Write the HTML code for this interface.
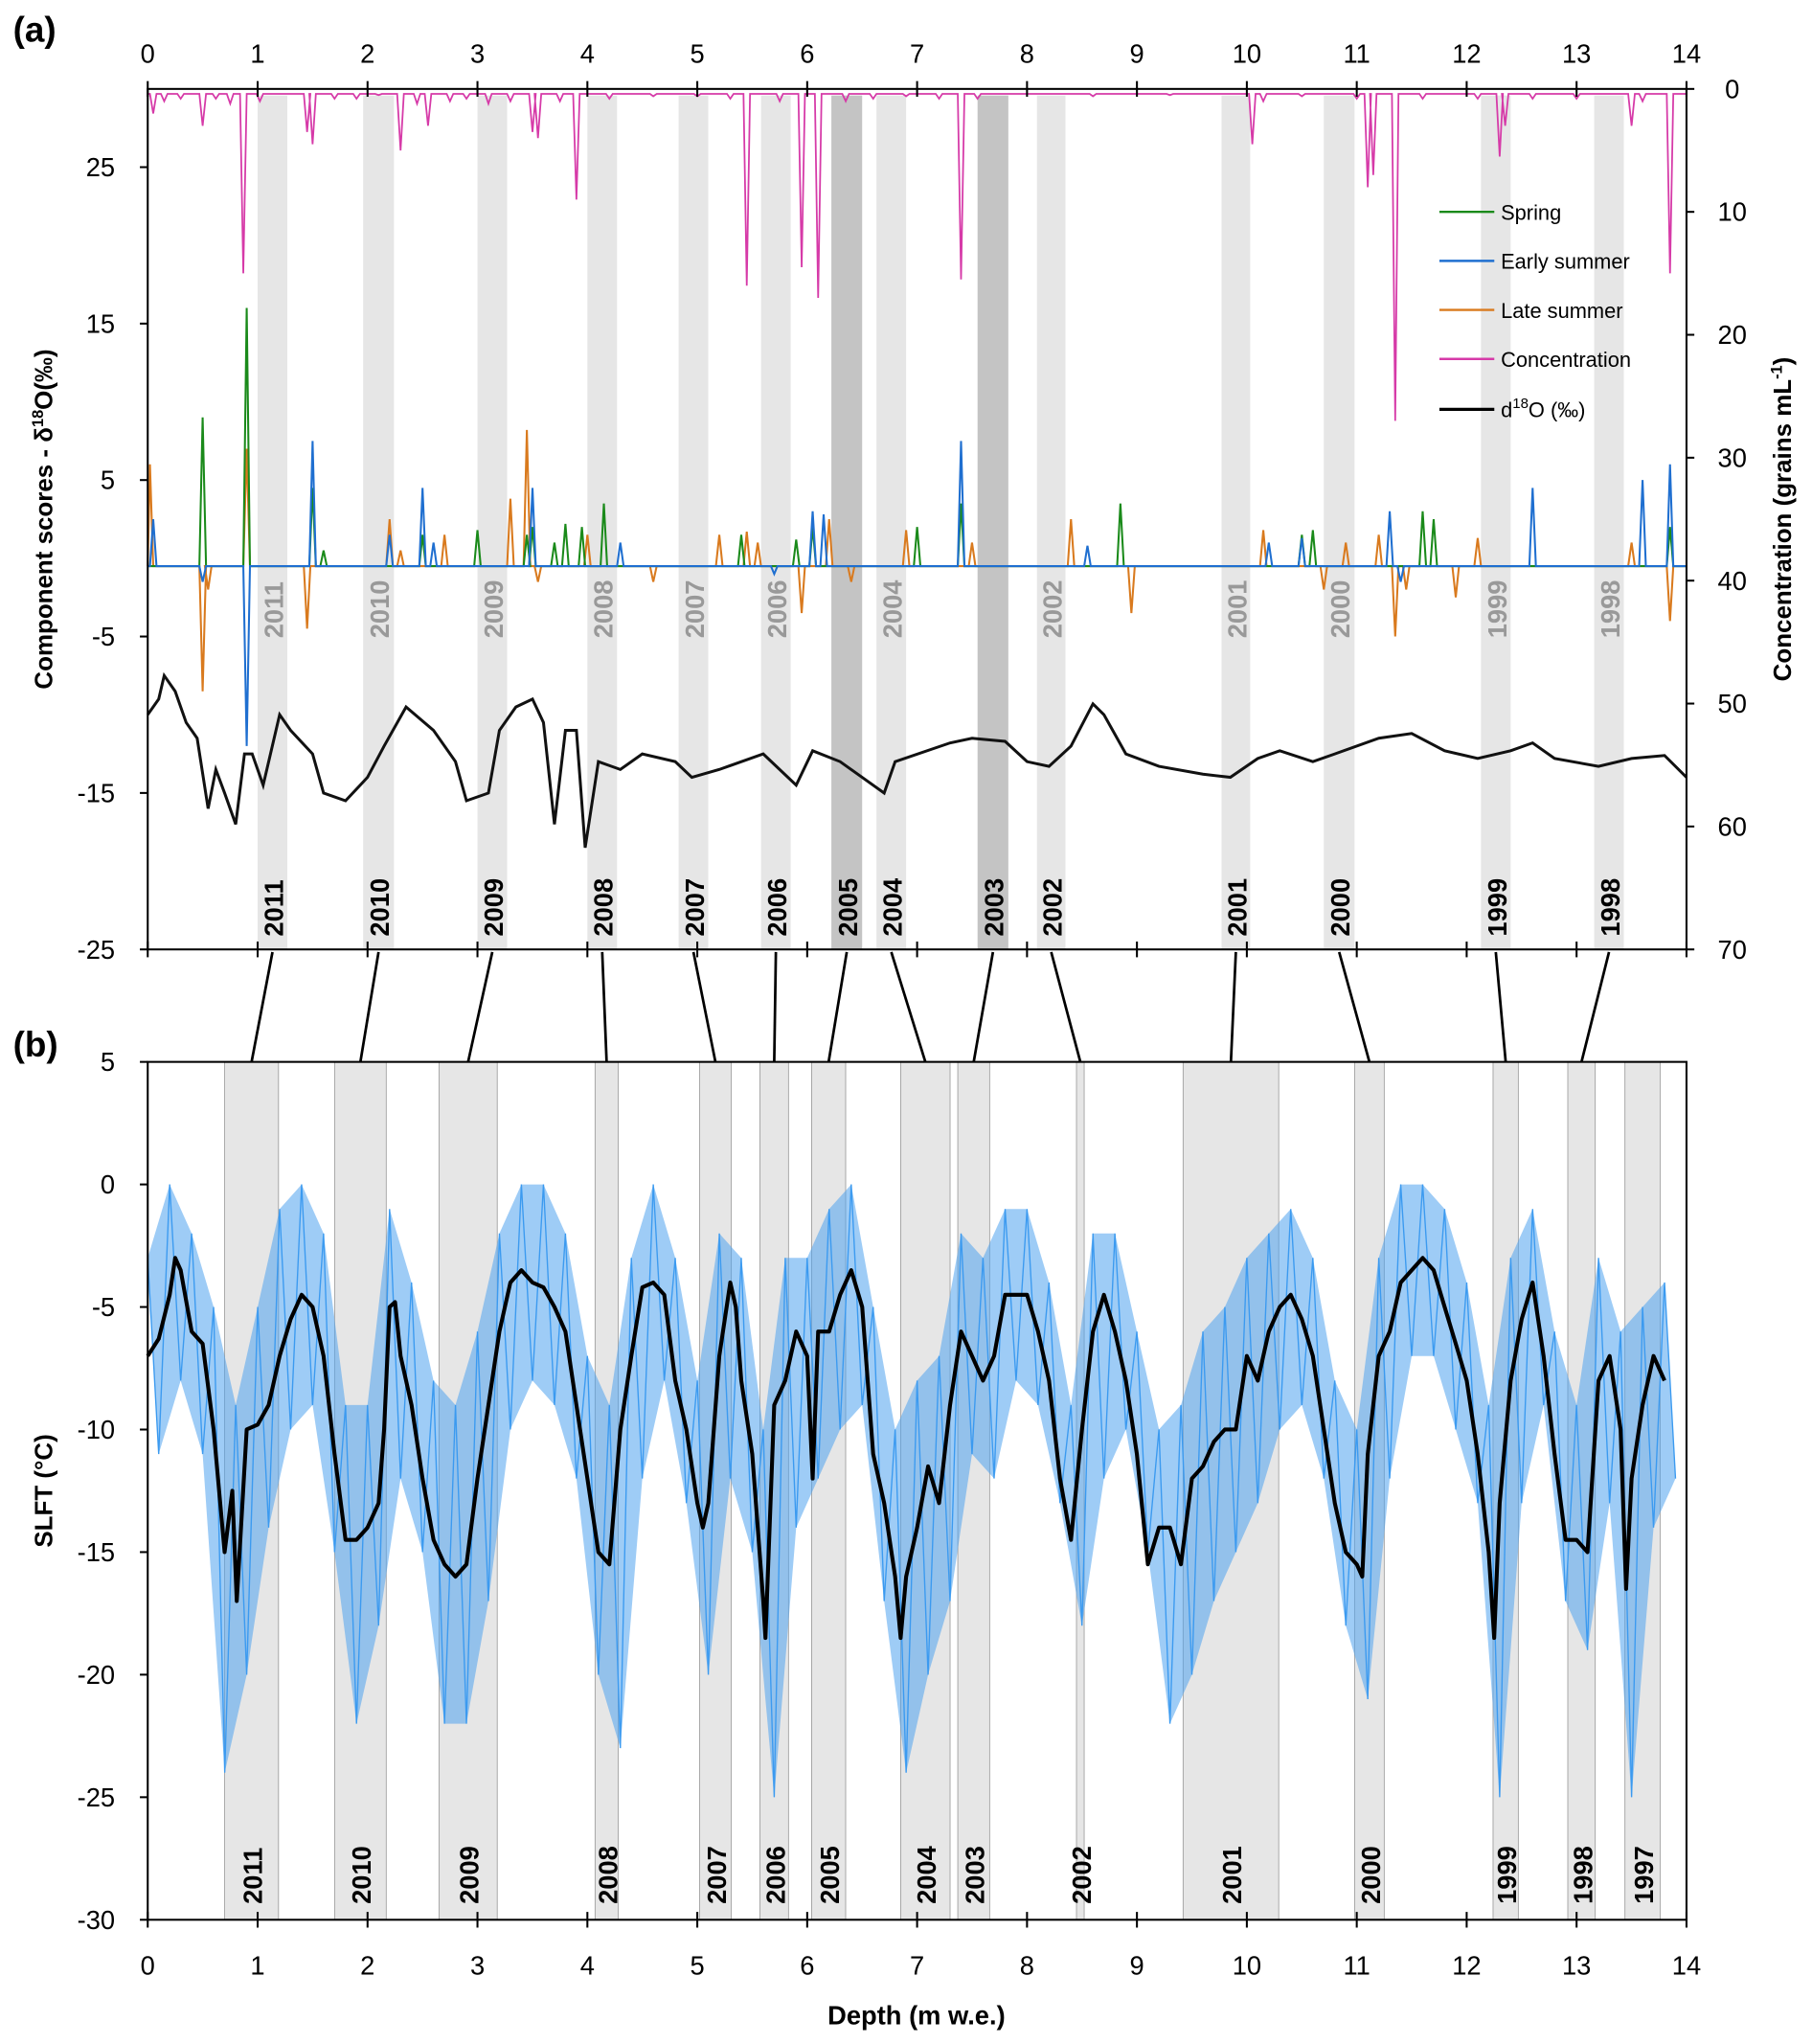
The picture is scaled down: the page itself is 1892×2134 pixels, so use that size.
<!DOCTYPE html>
<html><head><meta charset="utf-8">
<style>
html,body{margin:0;padding:0;background:#fff;}
svg{display:block;font-family:"Liberation Sans",sans-serif;}
</style></head>
<body>
<svg id="chart" width="1892" height="2134" viewBox="0 0 1386 1563" preserveAspectRatio="none" xmlns="http://www.w3.org/2000/svg">
<g id="bandsA"></g>
<g id="bandsB"></g>
<g id="marksA"></g>
<g id="marksB"></g>
<g id="axes"></g>
<g id="labels"></g>
<text x="10" y="32" font-size="27" font-weight="bold">(a)</text>
<text x="10" y="808" font-size="27" font-weight="bold">(b)</text>
<text transform="translate(40,397) rotate(-90)" text-anchor="middle" font-size="19" font-weight="bold">Component scores - δ<tspan font-size="12" dy="-7">18</tspan><tspan dy="7">O(‰)</tspan></text>
<text transform="translate(1370,397) rotate(-90)" text-anchor="middle" font-size="19" font-weight="bold">Concentration (grains mL<tspan font-size="12" dy="-7">-1</tspan><tspan dy="7">)</tspan></text>
<text transform="translate(40,1140) rotate(-90)" text-anchor="middle" font-size="19" font-weight="bold">SLFT (°C)</text>
<text x="701" y="1548" text-anchor="middle" font-size="20" font-weight="bold">Depth (m w.e.)</text>
<g id="legend"></g>
</svg>
<script>
// ---------- data ----------
const xTicks=[0,1,2,3,4,5,6,7,8,9,10,11,12,13,14];
const leftTicksA=[25,15,5,-5,-15,-25];
const rightTicksA=[0,10,20,30,40,50,60,70];
const yTicksB=[5,0,-5,-10,-15,-20,-25,-30];
const yearsA=['2011','2010','2009','2008','2007','2006','2005','2004','2003','2002','2001','2000','1999','1998'];
const bandStartA=[1.0,1.96,3.0,4.0,4.83,5.58,6.22,6.63,7.55,8.09,9.77,10.7,12.13,13.16];
const bandEndA=[1.27,2.24,3.27,4.27,5.1,5.85,6.5,6.9,7.83,8.35,10.03,10.98,12.4,13.43];
const bandDarkA=[0,0,0,0,0,0,1,0,1,0,0,0,0,0];
const yearsB=['2011','2010','2009','2008','2007','2006','2005','2004','2003','2002','2001','2000','1999','1998','1997'];
const bandStartB=[0.70,1.70,2.65,4.07,5.02,5.57,6.04,6.85,7.37,8.45,9.42,10.98,12.24,12.92,13.44];
const bandEndB=[1.19,2.17,3.18,4.28,5.31,5.83,6.35,7.30,7.66,8.52,10.29,11.25,12.47,13.17,13.76];
// concentration: baseline plus spikes; gaps where no data
const concBase=0.4;
const concGapStart=[1.1,7.45];
const concGapEnd=[1.38,7.5];
const concSpikeDepth=[0.05,0.15,0.3,0.5,0.62,0.75,0.87,1.02,1.45,1.5,1.7,1.9,2.1,2.3,2.45,2.55,2.75,2.9,3.1,3.3,3.5,3.55,3.75,3.9,4.2,4.6,5.0,5.3,5.45,5.75,5.95,6.1,6.35,6.6,6.9,7.2,7.4,7.55,8.6,9.3,10.05,10.15,10.5,11.0,11.1,11.15,11.35,11.6,12.1,12.3,12.35,12.6,13.0,13.5,13.6,13.85];
const concSpikeVal=[2,1,0.8,3,0.8,1.2,15,1,3.5,4.5,0.8,0.8,0.5,5,1.2,3,1,0.8,1.2,1,3.5,4,1,9,0.8,0.6,0.6,0.8,16,1,14.5,17,1,0.8,0.6,0.8,15.5,0.8,0.6,0.5,4.5,1,0.6,0.8,8,7,27,0.8,0.8,5.5,3,0.8,0.8,3,1,15];
const compBase=-0.5;
const springDepth=[0.5,0.9,1.5,1.6,2.5,3.0,3.45,3.5,3.7,3.8,3.95,4.15,5.4,5.9,6.05,7.0,7.4,8.85,10.5,10.6,11.6,11.7,13.85];
const springVal=[9,16,4.5,0.5,1.5,1.8,1.5,2,1,2.2,2,3.5,1.5,1.2,2,2,3.5,3.5,1.5,1.8,3,2.5,2];
const earlyDepth=[0.05,0.5,0.9,1.5,2.2,2.5,2.6,3.5,4.3,5.7,6.05,6.15,7.4,8.55,10.2,10.5,11.3,11.4,12.6,13.6,13.85];
const earlyVal=[2.5,-1.5,-12,7.5,1.5,4.5,1,4.5,1,-1,3,2.8,7.5,0.8,1,1.3,3,-1.5,4.5,5,6];
const lateDepth=[0.02,0.5,0.55,0.9,1.45,2.2,2.3,2.7,3.3,3.45,3.55,4.0,4.6,5.2,5.45,5.55,5.95,6.2,6.4,6.9,7.5,8.4,8.95,10.15,10.7,10.9,11.2,11.35,11.45,11.9,12.1,13.5,13.85];
const lateVal=[6,-8.5,-2,7,-4.5,2.5,0.5,1.5,3.8,8.2,-1.5,1.5,-1.5,1.5,1.7,1,-3.5,2.5,-1.5,1.8,1,2.5,-3.5,1.8,-2,1,1.5,-5,-2,-2.5,1.3,1,-4];
const d18Depth=[0,0.1,0.15,0.25,0.35,0.45,0.55,0.62,0.7,0.8,0.88,0.95,1.05,1.2,1.3,1.5,1.6,1.8,2.0,2.15,2.35,2.6,2.8,2.9,3.1,3.2,3.35,3.5,3.6,3.7,3.8,3.9,3.98,4.1,4.3,4.5,4.8,4.95,5.2,5.6,5.9,6.05,6.3,6.7,6.8,7.3,7.5,7.8,8.0,8.2,8.4,8.6,8.7,8.9,9.2,9.6,9.85,10.1,10.3,10.6,10.8,11.2,11.5,11.8,12.1,12.4,12.6,12.8,13.2,13.5,13.8,14];
const d18Val=[-10,-9,-7.5,-8.5,-10.5,-11.5,-16,-13.5,-15,-17,-12.5,-12.5,-14.5,-10,-11,-12.5,-15,-15.5,-14,-12,-9.5,-11,-13,-15.5,-15,-11,-9.5,-9,-10.5,-17,-11,-11,-18.5,-13,-13.5,-12.5,-13,-14,-13.5,-12.5,-14.5,-12.3,-13,-15,-13,-11.8,-11.5,-11.7,-13,-13.3,-12,-9.3,-10,-12.5,-13.3,-13.8,-14,-12.8,-12.3,-13,-12.5,-11.5,-11.2,-12.3,-12.8,-12.3,-11.8,-12.8,-13.3,-12.8,-12.6,-14];
const slftDepth=[0,0.1,0.2,0.25,0.3,0.4,0.5,0.6,0.7,0.77,0.81,0.9,1.0,1.1,1.2,1.3,1.4,1.5,1.6,1.7,1.8,1.9,2.0,2.1,2.15,2.2,2.25,2.3,2.4,2.5,2.6,2.7,2.8,2.9,3.0,3.1,3.2,3.3,3.4,3.5,3.6,3.7,3.8,3.9,4.0,4.1,4.2,4.3,4.4,4.5,4.6,4.7,4.8,4.9,5.0,5.05,5.1,5.2,5.3,5.35,5.4,5.5,5.6,5.62,5.7,5.8,5.9,6.0,6.05,6.1,6.2,6.3,6.4,6.5,6.6,6.7,6.8,6.85,6.9,7.0,7.1,7.2,7.3,7.4,7.5,7.6,7.7,7.8,7.9,8.0,8.1,8.2,8.3,8.4,8.5,8.6,8.7,8.8,8.9,9.0,9.1,9.2,9.3,9.4,9.5,9.6,9.7,9.8,9.9,10.0,10.1,10.2,10.3,10.4,10.5,10.6,10.7,10.8,10.9,11.0,11.05,11.1,11.2,11.3,11.4,11.5,11.6,11.7,11.8,11.9,12.0,12.1,12.2,12.25,12.3,12.4,12.5,12.6,12.7,12.8,12.9,13.0,13.1,13.2,13.3,13.4,13.45,13.5,13.6,13.7,13.8];
const slftBlack=[-7,-6.3,-4.5,-3,-3.5,-6,-6.5,-10,-15,-12.5,-17,-10,-9.8,-9,-7,-5.5,-4.5,-5,-7,-11,-14.5,-14.5,-14,-13,-10,-5,-4.8,-7,-9,-12,-14.5,-15.5,-16,-15.5,-12,-9,-6,-4,-3.5,-4,-4.2,-5,-6,-9,-12,-15,-15.5,-10,-7,-4.2,-4,-4.5,-8,-10,-13,-14,-13,-7,-4,-5,-8,-11,-17,-18.5,-9,-8,-6,-7,-12,-6,-6,-4.5,-3.5,-5,-11,-13,-16,-18.5,-16,-14,-11.5,-13,-9,-6,-7,-8,-7,-4.5,-4.5,-4.5,-6,-8,-12,-14.5,-10,-6,-4.5,-6,-8,-11,-15.5,-14,-14,-15.5,-12,-11.5,-10.5,-10,-10,-7,-8,-6,-5,-4.5,-5.5,-7,-10,-13,-15,-15.5,-16,-11,-7,-6,-4,-3.5,-3,-3.5,-5,-6.5,-8,-11,-15,-18.5,-13,-8,-5.5,-4,-7,-11,-14.5,-14.5,-15,-8,-7,-10,-16.5,-12,-9,-7,-8];
const blueHi=[-3,0,-2,-5,-9,-5,-1,0,-2,-9,-9,-1,-4,-8,-9,-6,-2,0,0,-2,-7,-9,-3,0,-3,-8,-2,-3,-10,-3,-3,-1,0,-5,-10,-8,-7,-2,-3,-1,-1,-4,-9,-2,-2,-6,-10,-9,-6,-5,-3,-2,-1,-3,-8,-10,-3,0,0,-1,-4,-9,-3,-1,-6,-9,-3,-6,-5,-4];
const blueLo=[-11,-8,-11,-24,-20,-14,-10,-9,-15,-22,-18,-12,-15,-22,-22,-17,-10,-8,-9,-12,-20,-23,-12,-8,-13,-20,-12,-15,-25,-14,-12,-10,-9,-17,-24,-20,-17,-11,-12,-8,-9,-13,-18,-12,-10,-15,-22,-20,-17,-15,-13,-10,-9,-12,-18,-21,-12,-7,-7,-10,-13,-25,-13,-9,-17,-19,-13,-25,-14,-12];
const legendNames=['Spring','Early summer','Late summer','Concentration'];
const legendColors=['#1a8a1a','#1f6fd0','#d97a1e','#d63aa8'];

// ---------- scales ----------
const X0=113,X1=1290;
const x=d=>X0+(X1-X0)*d/14;
const yA=v=>68+(30-v)*(658/55);
const yR=v=>68+v*(658/70);
const yB=v=>812+(5-v)*(656/35);
const NS='http://www.w3.org/2000/svg';
function mk(tag,parent,attrs){const e=document.createElementNS(NS,tag);for(const k in attrs)e.setAttribute(k,attrs[k]);parent.appendChild(e);return e;}
function pathFrom(ds,vs,fy){let p='',pen=false;for(let i=0;i<ds.length;i++){if(ds[i]===null){pen=false;continue;}p+=(pen?'L':'M')+x(ds[i]).toFixed(1)+','+fy(vs[i]).toFixed(1);pen=true;}return p;}
// baseline + narrow spikes, with optional gaps
function spikePath(ds,vs,base,fy,gs,ge,start,end){
  const hw=0.03;let pts=[[start,base]];
  ds.forEach((d,i)=>{pts.push([d-hw,base],[d,vs[i]],[d+hw,base]);});
  pts.push([end,base]);
  let p='',pen=false;
  for(const [d,v] of pts){
    let inGap=false;for(let k=0;k<gs.length;k++){if(d>gs[k]&&d<ge[k])inGap=true;}
    if(inGap){pen=false;continue;}
    p+=(pen?'L':'M')+x(Math.max(0,d)).toFixed(1)+','+fy(v).toFixed(1);pen=true;
  }
  return p;
}

// ---------- bands ----------
const gA=document.getElementById('bandsA'),gB=document.getElementById('bandsB'),gL=document.getElementById('labels');
yearsA.forEach((yr,i)=>{
  const r=mk('rect',gA,{x:x(bandStartA[i]),y:73,width:x(bandEndA[i])-x(bandStartA[i]),height:726-73,fill:bandDarkA[i]?'#c4c4c4':'#e6e6e6'});
  
  
  const cx=(x(bandStartA[i])+x(bandEndA[i]))/2+8;
  const t=mk('text',gL,{transform:`translate(${cx},716) rotate(-90)`,'font-size':20,'font-weight':'bold'});t.textContent=yr;
  
  
  if(!bandDarkA[i]){
    const g=mk('text',gL,{transform:`translate(${cx},488) rotate(-90)`,'font-size':20,'font-weight':'bold',fill:'#999'});g.textContent=yr;
    
    }
});
yearsB.forEach((yr,i)=>{
  const r=mk('rect',gB,{x:x(bandStartB[i]),y:812,width:x(bandEndB[i])-x(bandStartB[i]),height:656,fill:'#e6e6e6',stroke:'#999','stroke-width':0.6});
  
  
  const cx=(x(bandStartB[i])+x(bandEndB[i]))/2+8;
  const t=mk('text',gL,{transform:`translate(${cx},1456) rotate(-90)`,'font-size':20,'font-weight':'bold'});t.textContent=yr;
  
  
});
yearsA.forEach((yr,i)=>{
  const ax=(x(bandStartA[i])+x(bandEndA[i]))/2;
  const bx=(x(bandStartB[i])+x(bandEndB[i]))/2;
  const l=mk('line',gL,{x1:ax,y1:728,x2:bx,y2:812,stroke:'#000','stroke-width':2});
  
  
});

// ---------- panel a series ----------
const mA=document.getElementById('marksA');
let s;
s=mk('path',mA,{d:spikePath(concSpikeDepth,concSpikeVal,concBase,yR,concGapStart,concGapEnd,0,14),fill:'none',stroke:'#d63aa8','stroke-width':1.3});

s=mk('path',mA,{d:spikePath(lateDepth,lateVal,compBase,yA,[1.08],[1.4],0,14),fill:'none',stroke:'#d97a1e','stroke-width':1.5});

s=mk('path',mA,{d:spikePath(springDepth,springVal,compBase,yA,[1.08],[1.4],0,14),fill:'none',stroke:'#1a8a1a','stroke-width':1.5});

s=mk('path',mA,{d:spikePath(earlyDepth,earlyVal,compBase,yA,[1.08],[1.4],0,14),fill:'none',stroke:'#1f6fd0','stroke-width':1.5});

s=mk('path',mA,{d:pathFrom(d18Depth,d18Val,yA),fill:'none',stroke:'#111','stroke-width':2.2});


// ---------- panel b series ----------
const mB=document.getElementById('marksB');
const n=Math.min(blueHi.length,blueLo.length);
let env='',zz='';
for(let i=0;i<n;i++){env+=(i?'L':'M')+x(i*0.2).toFixed(1)+','+yB(blueHi[i]).toFixed(1);}
for(let i=n-1;i>=0;i--){env+='L'+x(i*0.2+0.1).toFixed(1)+','+yB(blueLo[i]).toFixed(1);}
s=mk('path',mB,{d:env+'Z',fill:'#4fa3ee','fill-opacity':0.55,stroke:'none'});

for(let i=0;i<n;i++){zz+=(i?'L':'M')+x(i*0.2).toFixed(1)+','+yB(blueHi[i]).toFixed(1)+'L'+x(i*0.2+0.1).toFixed(1)+','+yB(blueLo[i]).toFixed(1);}
s=mk('path',mB,{d:zz,fill:'none',stroke:'#3b9af0','stroke-width':1});

s=mk('path',mB,{d:pathFrom(slftDepth,slftBlack,yB),fill:'none',stroke:'#000','stroke-width':3,'stroke-linejoin':'round'});


// ---------- axes ----------
const ax=document.getElementById('axes');
s=mk('rect',ax,{x:X0,y:68,width:X1-X0,height:658,fill:'none',stroke:'#000','stroke-width':1.5});

s=mk('rect',ax,{x:X0,y:812,width:X1-X0,height:656,fill:'none',stroke:'#000','stroke-width':1.5});

xTicks.forEach(d=>{
  mk('line',ax,{x1:x(d),y1:62,x2:x(d),y2:74,stroke:'#000','stroke-width':1.5});
  mk('line',ax,{x1:x(d),y1:720,x2:x(d),y2:732,stroke:'#000','stroke-width':1.5});
  mk('line',ax,{x1:x(d),y1:1462,x2:x(d),y2:1474,stroke:'#000','stroke-width':1.5});
  let t=mk('text',ax,{x:x(d),y:48,'text-anchor':'middle','font-size':20});t.textContent=d;
  
  t=mk('text',ax,{x:x(d),y:1510,'text-anchor':'middle','font-size':20});t.textContent=d;
  
});
leftTicksA.forEach(v=>{
  mk('line',ax,{x1:107,y1:yA(v),x2:113,y2:yA(v),stroke:'#000','stroke-width':1.5});
  const t=mk('text',ax,{x:88,y:yA(v)+7,'text-anchor':'end','font-size':20});t.textContent=v;
  
});
rightTicksA.forEach(v=>{
  mk('line',ax,{x1:1290,y1:yR(v),x2:1296,y2:yR(v),stroke:'#000','stroke-width':1.5});
  const t=mk('text',ax,{x:1325,y:yR(v)+7,'text-anchor':'middle','font-size':20});t.textContent=v;
  
});
yTicksB.forEach(v=>{
  mk('line',ax,{x1:107,y1:yB(v),x2:113,y2:yB(v),stroke:'#000','stroke-width':1.5});
  const t=mk('text',ax,{x:88,y:yB(v)+7,'text-anchor':'end','font-size':20});t.textContent=v;
  
});

// ---------- legend ----------
const lg=document.getElementById('legend');
legendNames.forEach((nm,i)=>{
  const yy=162+i*37.5;
  mk('line',lg,{x1:1101,y1:yy,x2:1143,y2:yy,stroke:legendColors[i],'stroke-width':1.8});
  const t=mk('text',lg,{x:1148,y:yy+6,'font-size':16});t.textContent=nm;
  
});
mk('line',lg,{x1:1101,y1:313,x2:1143,y2:313,stroke:'#000','stroke-width':2.4});
const lt=mk('text',lg,{x:1148,y:319,'font-size':16});
lt.innerHTML='d<tspan font-size="11" dy="-7">18</tspan><tspan dy="7">O (‰)</tspan>';


</script>
</body></html>
